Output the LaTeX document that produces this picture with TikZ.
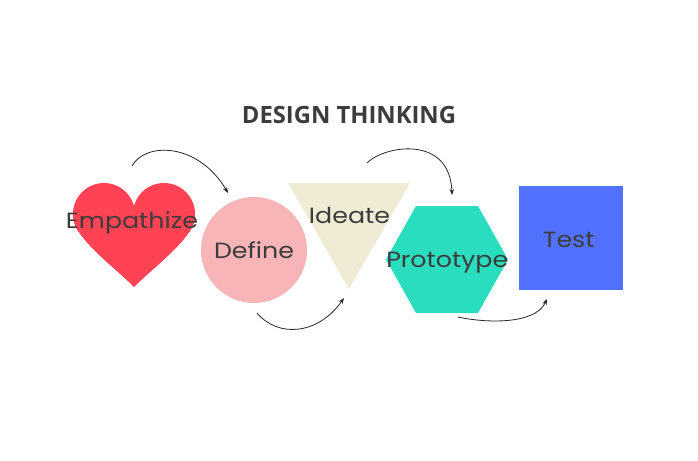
\documentclass[tikz,border=0pt]{standalone}
\usepackage{fontspec}
\setmainfont[FakeStretch=1.15]{Poppins}
\newfontfamily\titrefont{Open Sans}
\usetikzlibrary{arrows.meta}
\definecolor{rouge}{HTML}{FF4354}
\definecolor{rose}{HTML}{F7B5B8}
\definecolor{beige}{HTML}{F0EBD4}
\definecolor{turquoise}{HTML}{2ADDBE}
\definecolor{bleu}{HTML}{5271FF}
\definecolor{texte}{HTML}{3C3C3C}
\tikzset{
  etape/.style={text=texte, font=\fontsize{22}{26}\selectfont, inner sep=0pt, anchor=base},
  fleche/.style={draw=black!85, line width=0.8pt, -{Stealth[length=6pt,width=4.5pt]}}
}
\begin{document}
\begin{tikzpicture}[x=1pt,y=-1pt]
    \useasboundingbox (0,0) rectangle (698,460);
    \node (titre) [text=texte, font=\titrefont\bfseries\fontsize{23.8}{28}\selectfont, inner sep=0pt, anchor=base] at (349,123.3) {DESIGN THINKING};
    \fill[rouge] (104,214) circle (31pt); \fill[rouge] (164,214) circle (31pt);
    \fill[rouge] (74.4,223.1) .. controls (80.3,242.2) and (116,269) .. (134,287) .. controls (152,269) and (187.7,242.2) .. (193.6,223.1) -- (164,214) -- (104,214) -- cycle; %coeur
    \fill[rose] (254,250) circle (53pt); %cercle
    \fill[beige] (288,183) -- (410,183) -- (349,289) -- cycle; %triangle
    \fill[turquoise] (416,206) -- (478,206) -- (508,259.5) -- (478,313) -- (416,313) -- (386,259.5) -- cycle; %hexagone
    \fill[bleu] (519,186) rectangle (623,290); %carre
    \node (empathize) [etape] at (132,228.3) {Empathize};
    \node (define) [etape] at (254,258.3) {Define};
    \node (ideate) [etape] at (349.5,223.3) {Ideate};
    \node (prototype) [etape] at (447.3,267.3) {Prototype};
    \node (test) [etape] at (568.7,247.3) {Test};
    \coordinate (d1) at (132,166); \coordinate (f1) at (228,193);
    \coordinate (d2) at (257,313); \coordinate (f2) at (344,298);
    \coordinate (d3) at (367,163); \coordinate (f3) at (452,195);
    \coordinate (d4) at (458,317); \coordinate (f4) at (547,299);
    \draw[fleche] (d1) .. controls (145,142) and (198,142) .. (f1); %empathize vers define
    \draw[fleche] (d2) .. controls (278,338) and (318,335) .. (f2); %define vers ideate
    \draw[fleche] (d3) .. controls (385,145) and (450,135) .. (f3); %ideate vers prototype
    \draw[fleche] (d4) .. controls (485,323) and (535,325) .. (f4); %prototype vers test
\end{tikzpicture}
\end{document}
